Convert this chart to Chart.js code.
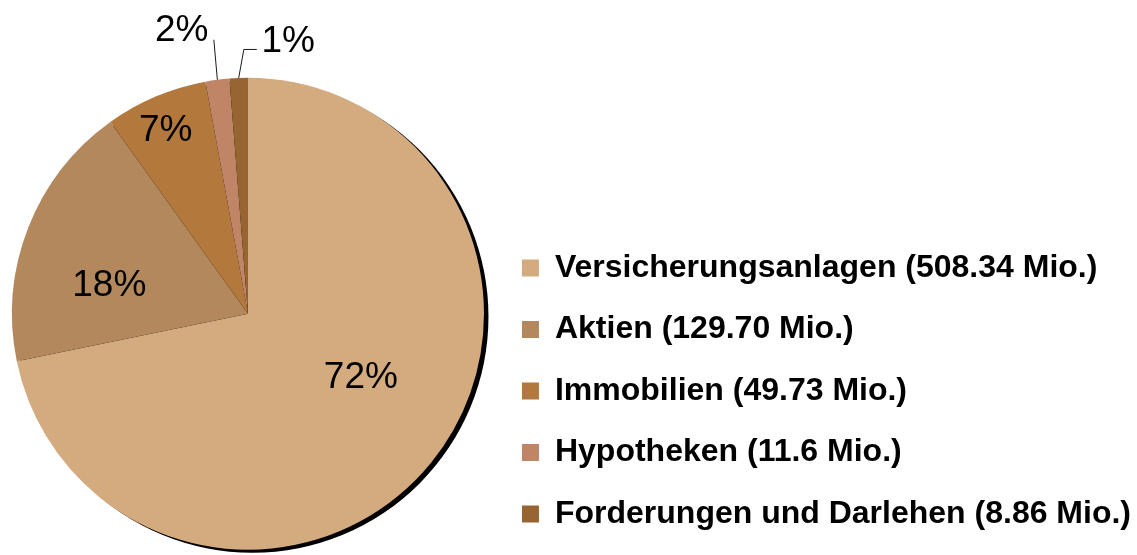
<!DOCTYPE html>
<html lang="de">
<head>
    <meta charset="utf-8">
    <script src="https://cdn.jsdelivr.net/npm/chart.js"></script>
    <style>
        html, body { margin: 0; padding: 0; background: #fff; }
        #wrap { width: 1137px; height: 555px; }
    </style>
</head>
<body>

    <div id="wrap"><canvas id="pieChart"></canvas></div>

    <script>
        // data
        const categories = ["Versicherungsanlagen", "Aktien", "Immobilien", "Hypotheken", "Forderungen und Darlehen"];
        const amountText = ["508.34", "129.70", "49.73", "11.6", "8.86"];   // Mio.
        const amounts = amountText.map(Number);
        const colors = ["#D4AA7F", "#B3885C", "#B3783C", "#C08466", "#976531"];

        // where each percentage label sits: fraction of radius + angle shift (deg) from slice middle
        const labelPlace = [
            { r: 0.55, shift: -9.6 },
            { r: 0.60, shift: -9.8 },
            { r: 0.85, shift: -1.2 },
            { r: 1.23, shift: -5.75, elbow: { r: 1.17, shift: 0.35, dx: 0 } },
            { r: 1.165, shift: 10.65, elbow: { r: 1.12, shift: 1.35, dx: 13 } }
        ];

        const total = amounts.reduce((a, b) => a + b, 0);

        const ctx = document.getElementById('pieChart').getContext('2d');

        // dark shadow behind the pie (offset down-right)
        const pieShadow = {
            id: 'pieShadow',
            beforeDatasetsDraw(chart) {
                const arc = chart.getDatasetMeta(0).data[0];
                if (!arc) return;
                const c = chart.ctx;
                c.save();
                c.fillStyle = '#000';
                c.beginPath();
                c.arc(arc.x + 4.5, arc.y + 3, arc.outerRadius, 0, Math.PI * 2);
                c.fill();
                c.restore();
            }
        };

        // percentage labels, with leader lines for the small slices
        const pctLabels = {
            id: 'pctLabels',
            afterDatasetsDraw(chart) {
                const c = chart.ctx;
                const meta = chart.getDatasetMeta(0);
                c.save();
                c.font = '37px "Liberation Sans", Arial, sans-serif';
                c.fillStyle = '#000';
                c.strokeStyle = '#1a1a1a';
                c.lineWidth = 1;
                c.textAlign = 'center';
                c.textBaseline = 'middle';
                meta.data.forEach((arc, i) => {
                    const p = labelPlace[i];
                    const R = arc.outerRadius;
                    const mid = (arc.startAngle + arc.endAngle) / 2;
                    const a = mid + p.shift * Math.PI / 180;
                    const tx = arc.x + Math.cos(a) * R * p.r;
                    const ty = arc.y + Math.sin(a) * R * p.r;
                    if (p.elbow) {
                        const ea = mid + p.elbow.shift * Math.PI / 180;
                        const ex = arc.x + Math.cos(ea) * R * p.elbow.r;
                        const ey = arc.y + Math.sin(ea) * R * p.elbow.r;
                        c.beginPath();
                        c.moveTo(arc.x + Math.cos(mid) * R, arc.y + Math.sin(mid) * R);
                        c.lineTo(ex, ey);
                        if (p.elbow.dx) c.lineTo(ex + p.elbow.dx, ey);
                        c.stroke();
                    }
                    const pct = Math.round(amounts[i] / total * 100);
                    c.fillText(pct + '%', tx, ty);
                });
                c.restore();
            }
        };

        new Chart(ctx, {
            type: 'pie',
            data: {
                labels: categories.map((n, i) => `${n} (${amountText[i]} Mio.)`),
                datasets: [{
                    data: amounts,
                    backgroundColor: colors,
                    borderWidth: 0,
                    radius: 236
                }]
            },
            options: {
                responsive: true,
                maintainAspectRatio: false,
                animation: false,
                layout: { padding: { left: 3.5, right: -4, top: 72.5, bottom: -4.6 } },
                plugins: {
                    tooltip: { enabled: false },
                    legend: {
                        position: 'right',
                        align: 'end',
                        maxWidth: 700,
                        labels: {
                            boxWidth: 17,
                            boxHeight: 17,
                            padding: 29.5,
                            color: '#000',
                            font: { family: '"Liberation Sans", Arial, sans-serif', size: 32, weight: 'bold' }
                        }
                    }
                }
            },
            plugins: [pieShadow, pctLabels]
        });
    </script>

</body>
</html>
